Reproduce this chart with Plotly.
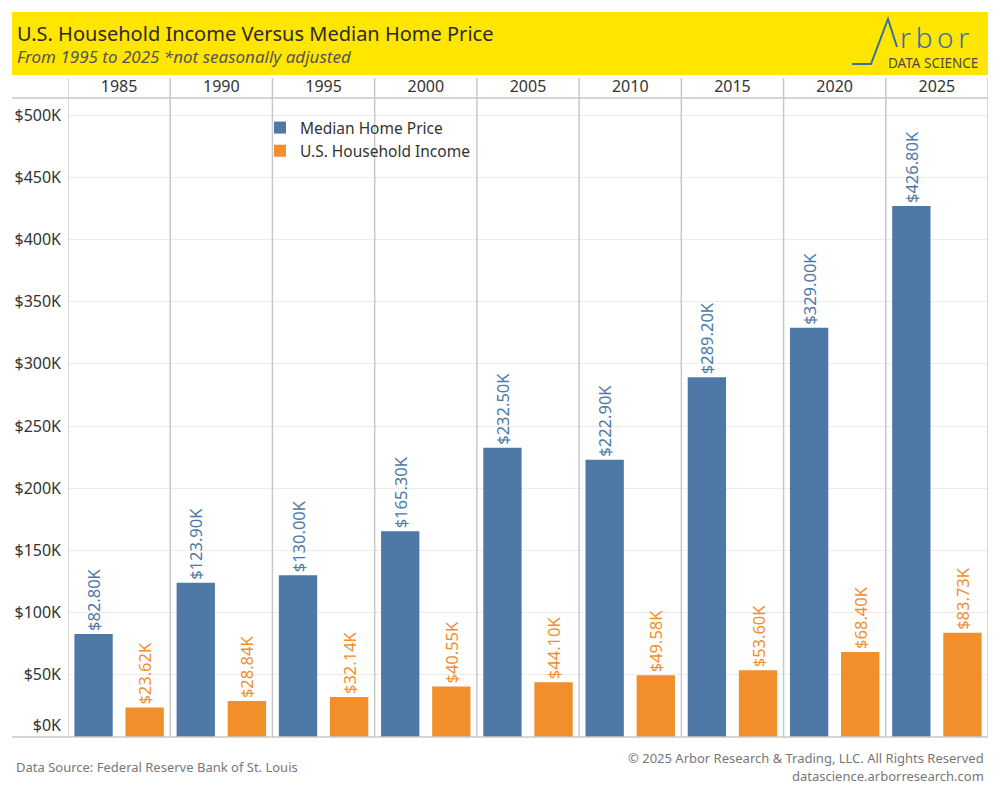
import plotly.graph_objects as go

years = ["1985", "1990", "1995", "2000", "2005", "2010", "2015", "2020", "2025"]
home_price_k = [82.80, 123.90, 130.00, 165.30, 232.50, 222.90, 289.20, 329.00, 426.80]
income_k = [23.62, 28.84, 32.14, 40.55, 44.10, 49.58, 53.60, 68.40, 83.73]
series_names = ["Median Home Price", "U.S. Household Income"]
y_ticks_k = [50, 100, 150, 200, 250, 300, 350, 400, 450, 500]
y_zero_tick = [0]

BLUE = "#4e79a7"
ORANGE = "#f28e2b"
FONT = "Noto Sans"
OFF = 8  # page body margin
W, H = 1000, 800
L, R, T, B = 68 - OFF, W - (988 - OFF), 98 - OFF, H - (737 - OFF)
PW, PH = W - L - R, H - T - B
YMAX = PH / 1.244


def px(x):
    return (x - OFF - L) / PW


def py(y):
    return (H - B - (y - OFF)) / PH


def fmt_tick(v):
    return f"${v}K"


fig = go.Figure()
for name, vals, col in [(series_names[0], home_price_k, BLUE), (series_names[1], income_k, ORANGE)]:
    fig.add_trace(go.Bar(
        x=years, y=vals, name=name, marker=dict(color=col, line=dict(width=0)),
        text=[f"${v:.2f}K" for v in vals], textposition="outside", textangle=-90,
        textfont=dict(family=FONT, size=16.5, color=col), cliponaxis=False,
        constraintext="none", hoverinfo="skip",
    ))
# empty helper trace so the secondary (zero-label) axis is drawn
fig.add_trace(go.Scatter(x=[], y=[], yaxis="y2", showlegend=False, hoverinfo="skip"))

shapes = []
shapes.append(dict(type="rect", xref="paper", yref="paper", x0=px(12), x1=px(988), y0=py(75), y1=py(12),
                   fillcolor="#ffe600", line=dict(width=0), layer="below"))
for yy in (98, 737):
    shapes.append(dict(type="line", xref="paper", yref="paper", x0=px(12), x1=px(988), y0=py(yy), y1=py(yy),
                       line=dict(color="#c8c8c8", width=1.5)))
for i in range(len(years) + 1):
    shapes.append(dict(type="line", xref="x", yref="paper", x0=i - 0.5, x1=i - 0.5, y0=0, y1=py(78),
                       line=dict(color="#c8c8c8", width=1.5)))
shapes.append(dict(type="path", xref="paper", yref="paper",
                   path=f"M {px(852)} {py(64)} L {px(871)} {py(64)} L {px(888)} {py(19)} L {px(897)} {py(47)}",
                   line=dict(color="#3a6ea5", width=2)))

annotations = [
    dict(text="U.S. Household Income Versus Median Home Price", x=px(15), y=py(33), xref="paper", yref="paper",
         xanchor="left", yanchor="middle", showarrow=False,
         font=dict(family=FONT, size=20, color="#2b2b2b")),
    dict(text="<i>From 1995 to 2025 *not seasonally adjusted</i>", x=px(15), y=py(57), xref="paper", yref="paper",
         xanchor="left", yanchor="middle", showarrow=False, font=dict(family=FONT, size=17, color="#555555")),
    dict(text="r\u2009b\u2009o\u2009r", x=px(898), y=py(37), xref="paper", yref="paper", xanchor="left",
         yanchor="middle", showarrow=False, font=dict(family=FONT, size=28, color="#3a6ea5", weight=300)),
    dict(text="DATA SCIENCE", x=px(980), y=py(63), xref="paper", yref="paper", xanchor="right", yanchor="middle",
         showarrow=False, font=dict(family=FONT, size=13.5, color="#4a4a4a")),
    dict(text="Data Source: Federal Reserve Bank of St. Louis", x=px(14), y=py(767), xref="paper", yref="paper",
         xanchor="left", yanchor="middle", showarrow=False, font=dict(family=FONT, size=13, color="#777777")),
    dict(text="© 2025 Arbor Research & Trading, LLC. All Rights Reserved", x=px(986), y=py(758), xref="paper",
         yref="paper", xanchor="right", yanchor="middle", showarrow=False,
         font=dict(family=FONT, size=13, color="#777777")),
    dict(text="datascience.arborresearch.com", x=px(986), y=py(776), xref="paper", yref="paper",
         xanchor="right", yanchor="middle", showarrow=False, font=dict(family=FONT, size=13, color="#777777")),
]

tickfont = dict(family=FONT, size=16, color="#333333")
fig.update_layout(
    width=W, height=H, margin=dict(l=L, r=R, t=T, b=B, autoexpand=False),
    paper_bgcolor="white", plot_bgcolor="white",
    barmode="group", bargap=0.0, bargroupgap=0.25,
    font=dict(family=FONT, color="#333333"),
    showlegend=True,
    legend=dict(x=px(260), y=py(111), xanchor="left", yanchor="top", bgcolor="rgba(0,0,0,0)",
                font=dict(family=FONT, size=15.5, color="#333333"), tracegroupgap=0),
    xaxis=dict(side="top", type="category", range=[-0.5, len(years) - 0.5], showgrid=False, showline=False,
               ticks="", tickfont=tickfont, zeroline=False, ticklabelstandoff=2),
    yaxis=dict(range=[0, YMAX], tickmode="array", tickvals=y_ticks_k, ticktext=[fmt_tick(v) for v in y_ticks_k],
               showgrid=True, gridcolor="#ececec", gridwidth=1, zeroline=False, showline=False, ticks="",
               tickfont=tickfont, ticklabelstandoff=6),
    yaxis2=dict(overlaying="y", side="left", range=[0, YMAX], tickmode="array", tickvals=y_zero_tick,
                ticktext=[fmt_tick(v) for v in y_zero_tick],
                showgrid=False, zeroline=False, showline=False, ticks="", tickfont=tickfont,
                ticklabelstandoff=6, ticklabelshift=-12),
    shapes=shapes, annotations=annotations,
)

fig.write_html("out.html")
